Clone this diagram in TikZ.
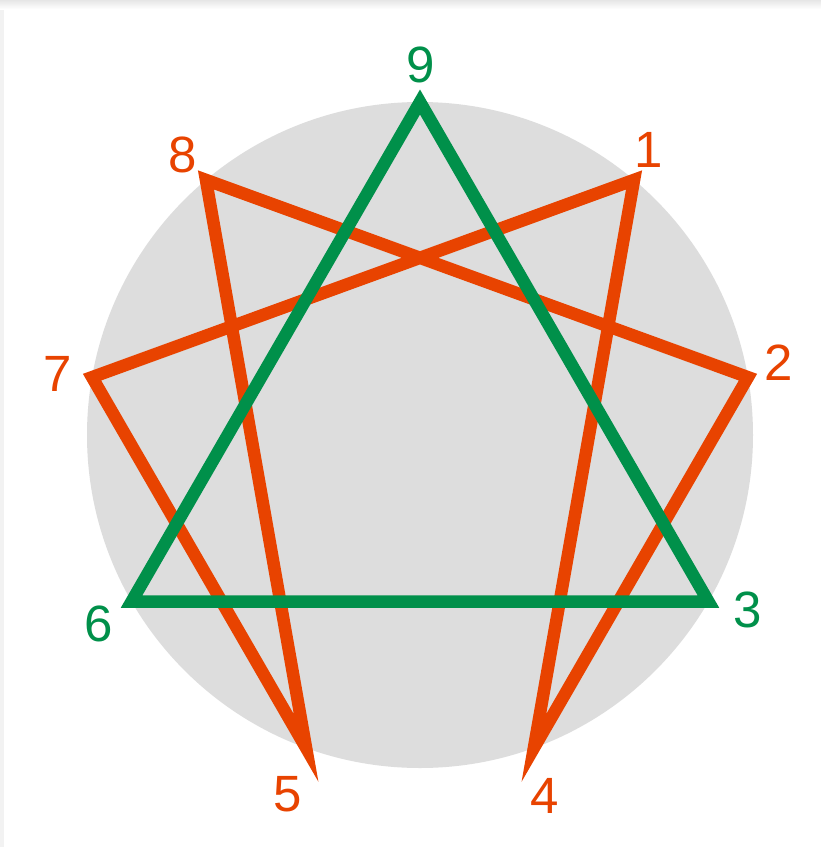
\documentclass[tikz,border=0pt]{standalone}
\usepackage{fontspec}
\setmainfont{Liberation Sans}
\definecolor{ered}{HTML}{E84300}
\definecolor{egreen}{HTML}{00904A}
\definecolor{egray}{HTML}{DDDDDD}
\definecolor{eframe}{HTML}{E6E6E6}
\definecolor{eside}{HTML}{F2F2F2}
\begin{document}
\begin{tikzpicture}[x=1pt,y=-1pt,
  lbl/.style={inner sep=0pt,font=\fontsize{51}{51}\selectfont},
  redlbl/.style={lbl,text=ered},
  greenlbl/.style={lbl,text=egreen},
  redline/.style={draw=ered,line width=12.5pt,line join=miter,miter limit=10},
  greenline/.style={draw=egreen,line width=12.5pt,line join=miter,miter limit=10}]
\useasboundingbox (0,0) rectangle (821,847);
\fill[white] (0,0) rectangle (821,847);
\fill[eside] (0,0) rectangle (4,847);
\shade[top color=eframe,bottom color=white] (0,0) rectangle (821,9);
\fill[egray] (420,435) circle[radius=333];
% vertices on circle
\foreach \n/\a in {9/90,1/50,2/10,3/-30,4/-70,5/-110,6/-150,7/170,8/130}
  \coordinate (p\n) at ({420+333*cos(\a)},{435-333*sin(\a)});
\draw[redline] (p1) -- (p4) -- (p2) -- (p8) -- (p5) -- (p7) -- cycle;
\draw[greenline] (p9) -- (p3) -- (p6) -- cycle;
\node[greenlbl] (l9) at (421,65) {9};
\node[redlbl] (l1) at (649,150) {1};
\node[redlbl] (l2) at (779,363) {2};
\node[greenlbl] (l3) at (748,610) {3};
\node[redlbl] (l4) at (545,796) {4};
\node[redlbl] (l5) at (288,794) {5};
\node[greenlbl] (l6) at (99,624) {6};
\node[redlbl] (l7) at (58,374) {7};
\node[redlbl] (l8) at (183,155) {8};
\end{tikzpicture}
\end{document}
